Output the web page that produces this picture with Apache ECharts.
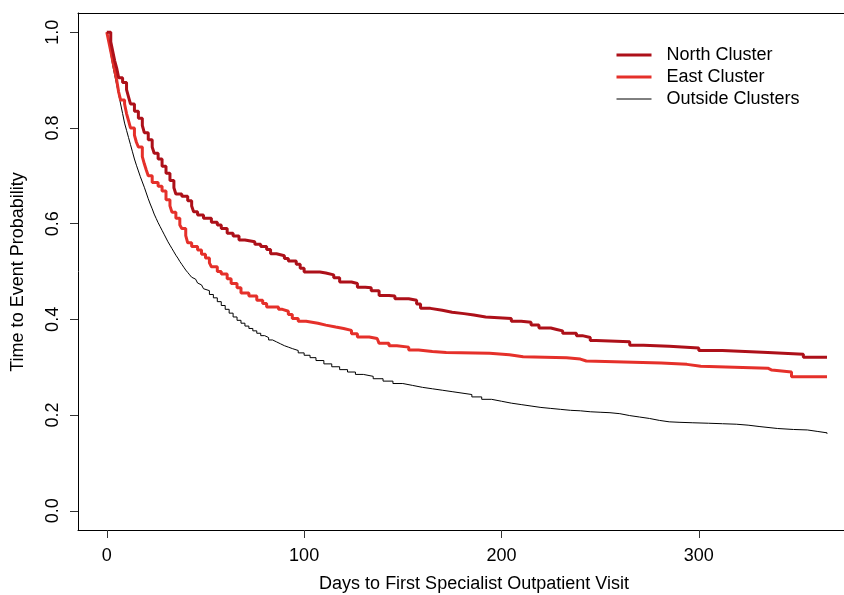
<!DOCTYPE html>
<html>
<head>
<meta charset="utf-8">
<script src="https://cdn.jsdelivr.net/npm/echarts@6/dist/echarts.min.js"></script>
<style>html,body{margin:0;padding:0;background:#fff}#c{width:844px;height:595px}</style>
</head>
<body>
<div id="c"></div>
<script>
var seriesNames = ['North Cluster', 'East Cluster', 'Outside Clusters'];
var xTicks = [0, 100, 200, 300];
var yTicks = [0, 0.2, 0.4, 0.6, 0.8, 1.0];

var northDays = [0,2,3,4,5,6,8,10,11,12,14,16,18,19,21,23,24,26,28,30,32,34,35,38,41,43,44,46,49,53,56,58,61,64,67,70,75,78,81,83,86,90,92,96,98,100,108,111,115,118,124,127,131,134,138,143,146,153,157,159,164,170,175,181,186,192,205,210,215,219,225,228,231,238,241,245,248,265,272,285,300,312,335,353,365];
var northSurv = [1.0,0.98,0.96,0.94,0.925,0.905,0.895,0.88,0.865,0.85,0.835,0.82,0.805,0.79,0.775,0.76,0.747,0.735,0.72,0.705,0.69,0.675,0.662,0.657,0.648,0.637,0.625,0.618,0.611,0.603,0.597,0.59,0.58,0.574,0.566,0.562,0.557,0.552,0.546,0.537,0.533,0.527,0.522,0.515,0.507,0.499,0.497,0.493,0.487,0.478,0.475,0.467,0.466,0.46,0.45,0.449,0.443,0.44,0.432,0.423,0.419,0.415,0.412,0.409,0.405,0.402,0.396,0.394,0.388,0.382,0.379,0.376,0.371,0.366,0.362,0.356,0.353,0.346,0.344,0.34,0.335,0.331,0.327,0.321,0.321];

var eastDays = [0,1,2,3,4,5,6,7,9,10,11,12,14,15,16,18,19,20,21,23,26,28,30,32,33,35,37,38,40,41,43,46,48,50,52,53,56,58,61,63,66,68,72,76,79,81,87,89,92,94,97,101,107,111,116,120,124,127,133,137,138,143,147,153,158,165,172,194,204,211,233,240,243,281,294,301,335,337,347,365];
var eastSurv = [1.0,0.98,0.96,0.94,0.92,0.9,0.875,0.858,0.85,0.83,0.815,0.8,0.785,0.77,0.76,0.74,0.725,0.712,0.7,0.686,0.678,0.668,0.65,0.637,0.624,0.611,0.597,0.59,0.575,0.56,0.552,0.545,0.536,0.528,0.518,0.51,0.5,0.495,0.485,0.475,0.466,0.455,0.449,0.44,0.433,0.426,0.421,0.417,0.41,0.402,0.396,0.392,0.388,0.384,0.381,0.377,0.37,0.363,0.36,0.356,0.35,0.345,0.342,0.336,0.333,0.331,0.329,0.326,0.322,0.32,0.317,0.313,0.309,0.306,0.302,0.298,0.294,0.29,0.28,0.28];

var outsideDays = [0,1,2,3,4,5,6,7,8,9,10,11,12,13,14,15,16,17,18,19,20,21,22,23,24,25,26,27,28,29,30,31,32,33,34,35,36,37,38,39,40,41,42,43,44,45,46,47,48,49,50,52,54,56,58,60,62,64,66,68,70,72,74,76,78,80,82,84,86,88,90,92,94,97,100,103,106,110,114,118,122,126,130,135,140,145,150,155,160,165,170,175,180,185,190,195,200,205,210,215,220,225,230,235,240,245,250,255,260,265,270,275,280,285,290,297,305,312,319,325,331,340,348,355,360,365];
var outsideSurv = [1.0,0.98,0.955,0.93,0.91,0.89,0.87,0.85,0.83,0.81,0.795,0.78,0.765,0.75,0.735,0.722,0.71,0.698,0.687,0.676,0.664,0.652,0.641,0.631,0.62,0.611,0.602,0.594,0.586,0.578,0.57,0.562,0.555,0.548,0.541,0.534,0.528,0.521,0.515,0.509,0.503,0.498,0.493,0.488,0.484,0.48,0.476,0.472,0.468,0.464,0.46,0.452,0.445,0.437,0.429,0.421,0.413,0.405,0.398,0.392,0.386,0.381,0.376,0.371,0.366,0.362,0.357,0.353,0.349,0.345,0.342,0.339,0.335,0.33,0.325,0.32,0.314,0.307,0.301,0.295,0.29,0.285,0.281,0.276,0.271,0.266,0.262,0.258,0.255,0.252,0.249,0.246,0.243,0.238,0.233,0.229,0.225,0.222,0.219,0.216,0.214,0.212,0.21,0.209,0.207,0.206,0.205,0.203,0.199,0.196,0.193,0.189,0.186,0.185,0.184,0.183,0.182,0.181,0.179,0.176,0.172,0.17,0.169,0.166,0.163,0.161];

function pairs(xs, ys) { return xs.map(function (x, i) { return [x, ys[i]]; }); }

var FONT = '"Liberation Sans", Arial, Helvetica, sans-serif';
var chart = echarts.init(document.getElementById('c'), null, {renderer: 'canvas'});
chart.setOption({
  animation: false,
  backgroundColor: '#fff',
  textStyle: {fontFamily: FONT},
  grid: {left: 78, top: 13, right: 0, bottom: 65, show: false},
  xAxis: [{
    type: 'value', min: -14.6, max: 373.6, position: 'bottom',
    splitLine: {show: false},
    axisLine: {show: true, onZero: false, lineStyle: {color: '#000', width: 1}},
    axisTick: {show: true, inside: false, length: 8, lineStyle: {color: '#333', width: 1}, customValues: xTicks},
    axisLabel: {show: true, margin: 17, fontSize: 18, color: '#000', fontFamily: FONT, customValues: xTicks,
      formatter: function (v) { return String(v); }}
  }, {
    type: 'value', min: -14.6, max: 373.6, position: 'top',
    splitLine: {show: false},
    axisLine: {show: true, onZero: false, lineStyle: {color: '#000', width: 1}},
    axisTick: {show: false}, axisLabel: {show: false}
  }],
  yAxis: {
    type: 'value', min: -0.04, max: 1.04,
    splitLine: {show: false},
    axisLine: {show: true, onZero: false, lineStyle: {color: '#000', width: 1}},
    axisTick: {show: true, inside: false, length: 8, lineStyle: {color: '#333', width: 1}, customValues: yTicks},
    axisLabel: {show: true, margin: 16, fontSize: 18, color: '#000', rotate: 90, fontFamily: FONT, customValues: yTicks,
      formatter: function (v) { return v.toFixed(1); }}
  },
  legend: {
    orient: 'vertical', left: 610, top: 41,
    itemWidth: 35, itemHeight: 14, itemGap: 4,
    itemStyle: {opacity: 0},
    textStyle: {fontSize: 18, color: '#000', fontFamily: FONT, padding: [0, 0, 0, 10]},
    data: [
      {name: seriesNames[0], lineStyle: {width: 3}},
      {name: seriesNames[1], lineStyle: {width: 3}},
      {name: seriesNames[2], lineStyle: {width: 1}}
    ]
  },
  graphic: [
    {type: 'text', x: 18, y: 272, rotation: Math.PI / 2,
      style: {text: 'Time to Event Probability', fontSize: 18, fontFamily: FONT, fill: '#000', align: 'center', verticalAlign: 'middle'}},
    {type: 'text', x: 474, y: 584,
      style: {text: 'Days to First Specialist Outpatient Visit', fontSize: 18, fontFamily: FONT, fill: '#000', align: 'center', verticalAlign: 'middle'}}
  ],
  series: [
    {name: seriesNames[0], type: 'line', step: 'end', symbol: 'none', z: 4,
      lineStyle: {color: '#ad1019', width: 3}, itemStyle: {color: '#ad1019'},
      data: pairs(northDays, northSurv)},
    {name: seriesNames[1], type: 'line', step: 'end', symbol: 'none', z: 3,
      lineStyle: {color: '#e5302a', width: 3}, itemStyle: {color: '#e5302a'},
      data: pairs(eastDays, eastSurv)},
    {name: seriesNames[2], type: 'line', step: 'end', symbol: 'none', z: 2,
      lineStyle: {color: '#000', width: 1}, itemStyle: {color: '#000'},
      data: pairs(outsideDays, outsideSurv)}
  ]
});
</script>
</body>
</html>
